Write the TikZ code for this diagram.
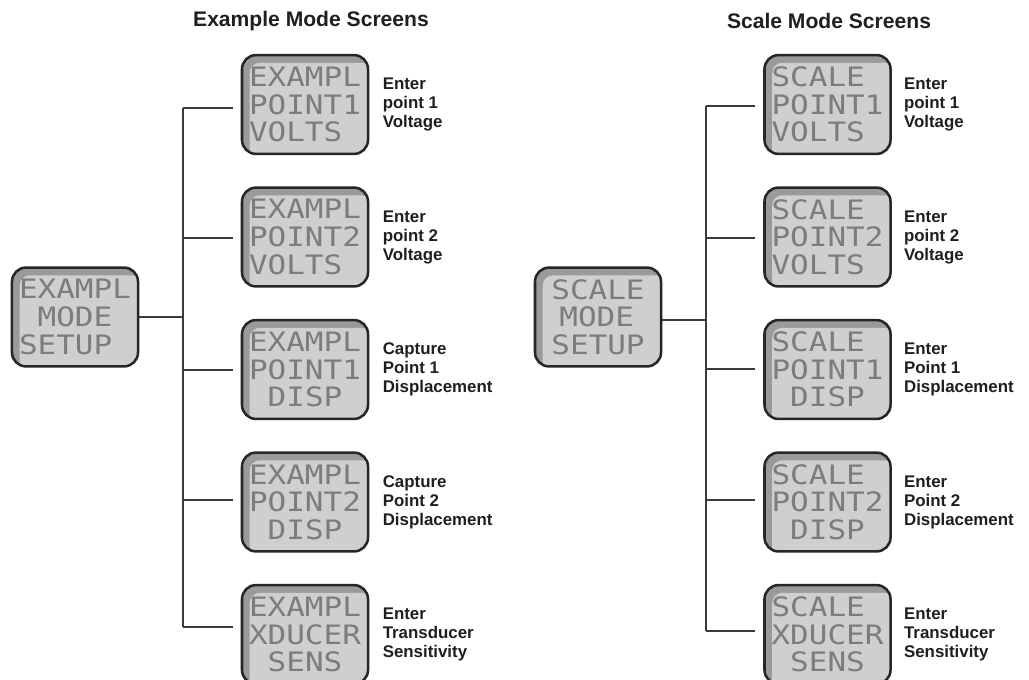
\documentclass[tikz,border=0pt]{standalone}
\usepackage{fontspec}
\setmainfont{Liberation Sans}
\newfontfamily\lcdfont[FakeStretch=1.16]{DejaVu Sans Mono}
\usetikzlibrary{positioning}

\definecolor{lcdfill}{HTML}{CFCFCF}
\definecolor{lcdbevel}{HTML}{9A9A9A}
\definecolor{lcdedge}{HTML}{262626}
\definecolor{lcdtext}{HTML}{7C7C7C}
\definecolor{wire}{HTML}{3A3A3A}

\tikzset{
  lcd/.style={rounded corners=0.35cm, draw=lcdedge, line width=1.8pt,
    minimum width=3.15cm, minimum height=2.47cm, inner sep=0pt, align=left,
    font=\lcdfont\fontsize{19}{19.6}\selectfont, text=lcdtext,
    path picture={
      \fill[lcdbevel] (path picture bounding box.south west) rectangle (path picture bounding box.north east);
      \fill[lcdfill,rounded corners=0.25cm] ([xshift=5.5pt,yshift=-1cm]path picture bounding box.south west)
        rectangle ([xshift=1cm,yshift=-5.5pt]path picture bounding box.north east);
    }},
  note/.style={align=left, inner sep=0pt, text=black!88,
    font=\fontsize{12}{13.5}\selectfont\bfseries},
  title/.style={inner sep=0pt, text=black!88, font=\fontsize{15}{18}\selectfont\bfseries},
  wires/.style={draw=wire, line width=1.2pt}
}

\begin{document}
\begin{tikzpicture}[x=0.025cm,y=-0.025cm]
  \clip (0,0) rectangle (1029,679);
  % Left-hand side part of the Figure
  \node[title]  (ttlL)      at (311,21) {Example Mode Screens};
  \node[lcd]    (rootL)     at (75,317) {EXAMPL\\~MODE\\SETUP};
  \node[lcd]    (exL1)      at (305,104.5) {EXAMPL\\POINT1\\VOLTS};
  \node[lcd]    (exL2)      at (305,237) {EXAMPL\\POINT2\\VOLTS};
  \node[lcd]    (exL3)      at (305,369.5) {EXAMPL\\POINT1\\~DISP};
  \node[lcd]    (exL4)      at (305,502) {EXAMPL\\POINT2\\~DISP};
  \node[lcd]    (exL5)      at (305,634.5) {EXAMPL\\XDUCER\\~SENS};
  \node[note,right=0.33cm of exL1] (ntL1) {Enter\\point 1\\Voltage};
  \node[note,right=0.33cm of exL2] (ntL2) {Enter\\point 2\\Voltage};
  \node[note,right=0.33cm of exL3] (ntL3) {Capture\\Point 1\\Displacement};
  \node[note,right=0.33cm of exL4] (ntL4) {Capture\\Point 2\\Displacement};
  \node[note,right=0.33cm of exL5] (ntL5) {Enter\\Transducer\\Sensitivity};
  \coordinate (jL)  at (183,317);
  \coordinate (tL1) at (183,108);
  \coordinate (tL2) at (183,238);
  \coordinate (tL3) at (183,370);
  \coordinate (tL4) at (183,500);
  \coordinate (tL5) at (183,627);
  \draw[wires] (rootL) -- (jL);
  \draw[wires] (tL1) -- (tL5);
  \draw[wires,shorten >=5.5pt] (tL1) -- (tL1 -| exL1.west);
  \draw[wires,shorten >=5.5pt] (tL2) -- (tL2 -| exL2.west);
  \draw[wires,shorten >=5.5pt] (tL3) -- (tL3 -| exL3.west);
  \draw[wires,shorten >=5.5pt] (tL4) -- (tL4 -| exL4.west);
  \draw[wires,shorten >=5.5pt] (tL5) -- (tL5 -| exL5.west);
  % Right-hand side part of the Figure
  \node[title]  (ttlR)      at (829,21) {Scale Mode Screens};
  \node[lcd]    (rootR)     at (598,317) {SCALE\\\hspace{.3em}MODE\\SETUP};
  \node[lcd]    (exR1)      at (827.5,104.5) {SCALE\\POINT1\\VOLTS};
  \node[lcd]    (exR2)      at (827.5,237) {SCALE\\POINT2\\VOLTS};
  \node[lcd]    (exR3)      at (827.5,369.5) {SCALE\\POINT1\\~DISP};
  \node[lcd]    (exR4)      at (827.5,502) {SCALE\\POINT2\\~DISP};
  \node[lcd]    (exR5)      at (827.5,634.5) {SCALE\\XDUCER\\~SENS};
  \node[note,right=0.3cm of exR1] (ntR1) {Enter\\point 1\\Voltage};
  \node[note,right=0.3cm of exR2] (ntR2) {Enter\\point 2\\Voltage};
  \node[note,right=0.3cm of exR3] (ntR3) {Enter\\Point 1\\Displacement};
  \node[note,right=0.3cm of exR4] (ntR4) {Enter\\Point 2\\Displacement};
  \node[note,right=0.3cm of exR5] (ntR5) {Enter\\Transducer\\Sensitivity};
  \coordinate (jR)  at (706,320);
  \coordinate (tR1) at (706,106);
  \coordinate (tR2) at (706,238);
  \coordinate (tR3) at (706,369);
  \coordinate (tR4) at (706,500);
  \coordinate (tR5) at (706,631);
  \draw[wires] (rootR.east |- jR) -- (jR);
  \draw[wires] (tR1) -- (tR5);
  \draw[wires,shorten >=5.5pt] (tR1) -- (tR1 -| exR1.west);
  \draw[wires,shorten >=5.5pt] (tR2) -- (tR2 -| exR2.west);
  \draw[wires,shorten >=5.5pt] (tR3) -- (tR3 -| exR3.west);
  \draw[wires,shorten >=5.5pt] (tR4) -- (tR4 -| exR4.west);
  \draw[wires,shorten >=5.5pt] (tR5) -- (tR5 -| exR5.west);
\end{tikzpicture}
\end{document}
